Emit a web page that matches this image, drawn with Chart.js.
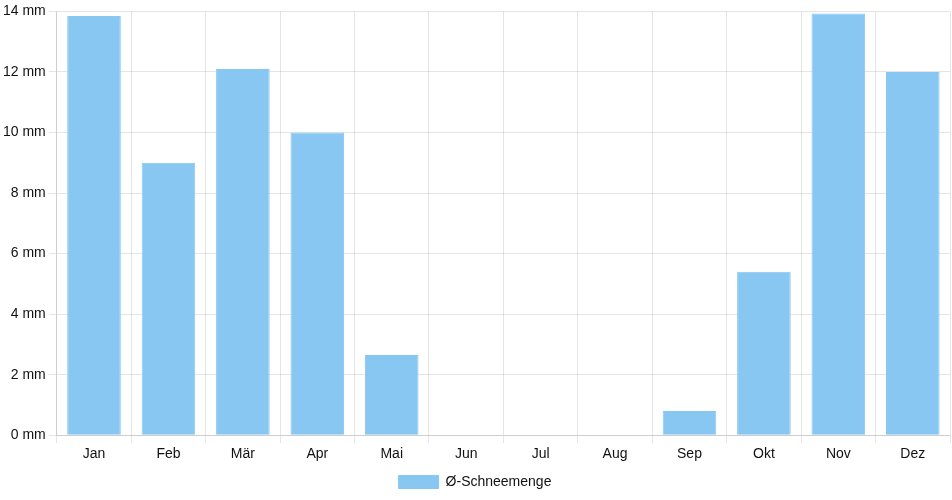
<!DOCTYPE html>
<html>
<head>
<meta charset="utf-8">
<script src="https://cdn.jsdelivr.net/npm/chart.js@4"></script>
<style>
  html, body { margin: 0; padding: 0; background: #fff; }
  #wrap { width: 952px; height: 500px; }
</style>
</head>
<body>
<div id="wrap"><canvas id="myChart"></canvas></div>
<script>
var months = ["Jan", "Feb", "Mär", "Apr", "Mai", "Jun", "Jul", "Aug", "Sep", "Okt", "Nov", "Dez"];
var snowfall = [13.85, 9.0, 12.1, 10.0, 2.65, 0, 0, 0, 0.8, 5.4, 13.93, 12.0];
var seriesLabel = "Ø-Schneemenge";

Chart.defaults.font.family = "'Liberation Sans', Arial, sans-serif";
Chart.defaults.font.size = 14;
Chart.defaults.color = "#111";

let ctx = document.getElementById("myChart").getContext("2d");

var myChart = new Chart(ctx, {
  type: "bar",
  data: {
    labels: months,
    datasets: [
      {
        label: seriesLabel,
        data: snowfall,
        backgroundColor: "rgba(135, 199, 241, 1)",
        borderColor: "rgba(135, 199, 241, 1)",
        borderWidth: 1,
      },
    ],
  },
  options: {
    responsive: true,
    maintainAspectRatio: false,
    animation: false,
    layout: { padding: { right: 2, top: 2, bottom: 1 } },
    plugins: {
      legend: {
        position: "bottom",
        labels: { boxWidth: 40, boxHeight: 13, padding: 9 },
      },
      tooltip: { enabled: false },
    },
    scales: {
      x: {
        grid: { color: "rgba(0,0,0,0.1)", offset: true },
        ticks: { padding: 3 },
      },
      y: {
        min: 0,
        max: 14,
        ticks: {
          stepSize: 2,
          callback: function (v) { return v + " mm"; },
        },
        grid: { color: "rgba(0,0,0,0.1)" },
      },
    },
  },
});
</script>
</body>
</html>
